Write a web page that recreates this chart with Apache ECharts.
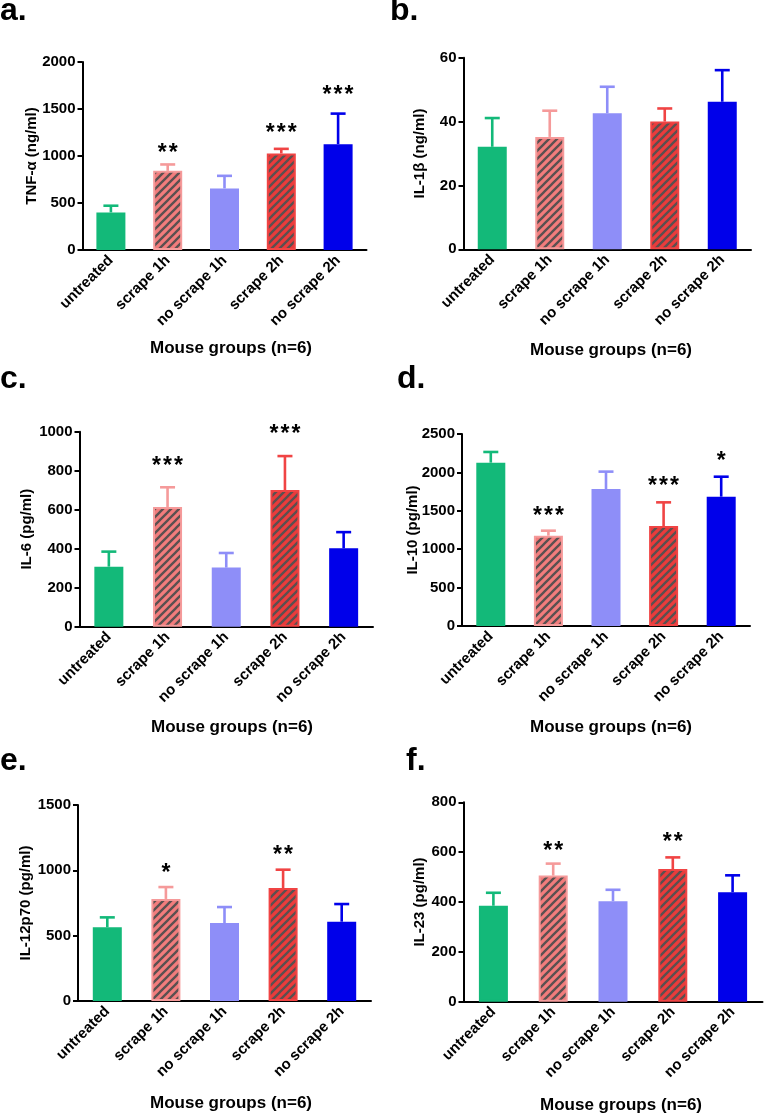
<!DOCTYPE html>
<html><head><meta charset="utf-8">
<script src="https://cdn.jsdelivr.net/npm/echarts@6/dist/echarts.min.js"></script>
<style>html,body{margin:0;padding:0;background:#fff}#c{width:765px;height:1115px}</style>
</head><body><div id="c"></div>
<script>
// ---------- data ----------
const categories = ['untreated', 'scrape 1h', 'no scrape 1h', 'scrape 2h', 'no scrape 2h'];
const groupColors  = ['#13b979', '#f27c7c', '#8e8ef8', '#ea3b3b', '#0000ea'];
const groupBorders = ['#13b979', '#f59a9a', '#8e8ef8', '#f04444', '#0000ea'];
const hatched = [false, true, false, true, false];

const tnfMean = [400, 842, 655, 1027, 1126];
const tnfErr  = [71, 68, 134, 49, 325];
const tnfStars = ['', '**', '', '***', '***'];
const tnfStarY = [null, 1080, null, 1292, 1699];

const il1bMean = [32.1, 35.2, 42.6, 40.0, 46.2];
const il1bErr  = [9.0, 8.2, 8.3, 4.1, 9.9];
const il1bStars = ['', '', '', '', ''];
const il1bStarY = [null, null, null, null, null];

const il6Mean = [308, 614, 303, 701, 402];
const il6Err  = [77, 101, 75, 174, 83];
const il6Stars = ['', '***', '', '***', ''];
const il6StarY = [null, 846, null, 1009, null];

const il10Mean = [2127, 1176, 1784, 1302, 1684];
const il10Err  = [139, 65, 226, 308, 260];
const il10Stars = ['', '***', '', '***', '*'];
const il10StarY = [null, 1489, null, 1879, 2205];

const il12Mean = [564, 781, 597, 865, 607];
const il12Err  = [76, 91, 122, 140, 135];
const il12Stars = ['', '*', '', '**', ''];
const il12StarY = [null, 1015, null, 1148, null];

const il23Mean = [385, 506, 403, 532, 439];
const il23Err  = [52, 48, 46, 47, 68];
const il23Stars = ['', '**', '', '**', ''];
const il23StarY = [null, 622, null, 660, null];

const xTitle = 'Mouse groups (n=6)';

// ---------- layout ----------
const FONT = '"Liberation Sans", Arial, sans-serif';
const panels = [
  {letter:'a.', yName:'TNF-α (ng/ml)', mean:tnfMean, err:tnfErr, stars:tnfStars, starY:tnfStarY, max:2000, interval:500,
   grid:{left:82.5, top:62, width:284, height:188}, nameGap:43, letterPos:[0,11], titlePos:[231,348]},
  {letter:'b.', yName:'IL-1β (ng/ml)', mean:il1bMean, err:il1bErr, stars:il1bStars, starY:il1bStarY, max:60, interval:20,
   grid:{left:463.5, top:57.7, width:287.5, height:191.6}, nameGap:36, letterPos:[390,11], titlePos:[611,350]},
  {letter:'c.', yName:'IL-6 (pg/ml)', mean:il6Mean, err:il6Err, stars:il6Stars, starY:il6StarY, max:1000, interval:200,
   grid:{left:79.5, top:431.7, width:293.5, height:195}, nameGap:45, letterPos:[0,379], titlePos:[232,727]},
  {letter:'d.', yName:'IL-10 (pg/ml)', mean:il10Mean, err:il10Err, stars:il10Stars, starY:il10StarY, max:2500, interval:500,
   grid:{left:462, top:434, width:288, height:192}, nameGap:42, letterPos:[397,379], titlePos:[611,727]},
  {letter:'e.', yName:'IL-12p70 (pg/ml)', mean:il12Mean, err:il12Err, stars:il12Stars, starY:il12StarY, max:1500, interval:500,
   grid:{left:78, top:805, width:293, height:196}, nameGap:45, letterPos:[0,761], titlePos:[231,1103]},
  {letter:'f.', yName:'IL-23 (pg/ml)', mean:il23Mean, err:il23Err, stars:il23Stars, starY:il23StarY, max:800, interval:200,
   grid:{left:463.5, top:802.3, width:299, height:199.4}, nameGap:36, letterPos:[406,761], titlePos:[621,1105]}
];

function makePattern(base) {
  const s = 8;
  const cv = document.createElement('canvas');
  cv.width = s; cv.height = s;
  const ctx = cv.getContext('2d');
  ctx.fillStyle = base; ctx.fillRect(0, 0, s, s);
  ctx.strokeStyle = '#5a5050'; ctx.lineWidth = 2.3; ctx.lineCap = 'square';
  ctx.beginPath();
  ctx.moveTo(0, s); ctx.lineTo(s, 0);
  ctx.moveTo(-1, 1); ctx.lineTo(1, -1);
  ctx.moveTo(s - 1, s + 1); ctx.lineTo(s + 1, s - 1);
  ctx.stroke();
  return {image: cv, repeat: 'repeat'};
}
const fills = groupColors.map((c, i) => hatched[i] ? makePattern(c) : c);

const grids = [], xAxes = [], yAxes = [], series = [], graphics = [];
const axisLineStyle = {color: '#000', width: 2};
const labelStyle = {color: '#000', fontWeight: 'bold', fontSize: 15, fontFamily: FONT};

panels.forEach((p, gi) => {
  grids.push(Object.assign({containLabel: false}, p.grid));
  xAxes.push({
    type: 'category', gridIndex: gi, data: categories,
    axisLine: {lineStyle: axisLineStyle},
    axisTick: {alignWithLabel: true, length: 5, lineStyle: axisLineStyle},
    axisLabel: Object.assign({rotate: 45, interval: 0, margin: 8}, labelStyle),
    splitLine: {show: false}
  });
  yAxes.push({
    type: 'value', gridIndex: gi, min: 0, max: p.max, interval: p.interval,
    name: p.yName, nameLocation: 'middle', nameGap: p.nameGap, nameRotate: 90, nameMoveOverlap: false,
    nameTextStyle: {color: '#000', fontWeight: 'bold', fontSize: 15, fontFamily: FONT},
    axisLine: {show: true, lineStyle: axisLineStyle},
    axisTick: {show: true, length: 5, lineStyle: axisLineStyle},
    axisLabel: Object.assign({margin: 7, formatter: v => String(v)}, labelStyle),
    splitLine: {show: false}
  });
  series.push({
    type: 'bar', xAxisIndex: gi, yAxisIndex: gi, barWidth: 29, z: 2,
    data: p.mean.map((v, i) => ({value: v, itemStyle: {color: fills[i], borderColor: groupBorders[i], borderWidth: 2}}))
  });
  series.push({
    type: 'custom', xAxisIndex: gi, yAxisIndex: gi, z: 1,
    data: p.mean.map((v, i) => [i, v, v + p.err[i]]),
    renderItem: function (params, api) {
      const i = api.value(0);
      const a = api.coord([i, api.value(1)]);
      const b = api.coord([i, api.value(2)]);
      const c = groupBorders[i];
      const hw = 7.5;
      return {type: 'group', children: [
        {type: 'line', shape: {x1: a[0], y1: a[1], x2: b[0], y2: b[1]}, style: {stroke: c, lineWidth: 2.6}},
        {type: 'line', shape: {x1: b[0] - hw, y1: b[1], x2: b[0] + hw, y2: b[1]}, style: {stroke: c, lineWidth: 2.6}}
      ]};
    }
  });
  const starData = [];
  p.starY.forEach((y, i) => { if (y != null && p.stars[i]) starData.push([i, y]); });
  series.push({
    type: 'custom', xAxisIndex: gi, yAxisIndex: gi, z: 3, clip: false,
    data: starData,
    renderItem: function (params, api) {
      const i = api.value(0);
      const pt = api.coord([i, api.value(1)]);
      const n = p.stars[i].length;
      const kids = [];
      for (let k = 0; k < n; k++) {
        kids.push({type: 'text', style: {text: '*', x: pt[0] + (k - (n - 1) / 2) * 11, y: pt[1] + 5,
          align: 'center', verticalAlign: 'middle', fill: '#000', font: 'bold 23px ' + FONT}});
      }
      return {type: 'group', children: kids};
    }
  });
  graphics.push({type: 'text', style: {text: p.letter, x: p.letterPos[0], y: p.letterPos[1], align: 'left', verticalAlign: 'middle',
    fill: '#000', font: 'bold 32px ' + FONT}});
  graphics.push({type: 'text', style: {text: xTitle, x: p.titlePos[0], y: p.titlePos[1], align: 'center', verticalAlign: 'middle',
    fill: '#000', font: 'bold 17px ' + FONT}});
});

const chart = echarts.init(document.getElementById('c'), null, {renderer: 'canvas'});
chart.setOption({
  animation: false,
  backgroundColor: '#fff',
  grid: grids, xAxis: xAxes, yAxis: yAxes, series: series, graphic: graphics
});
</script>
</body></html>
